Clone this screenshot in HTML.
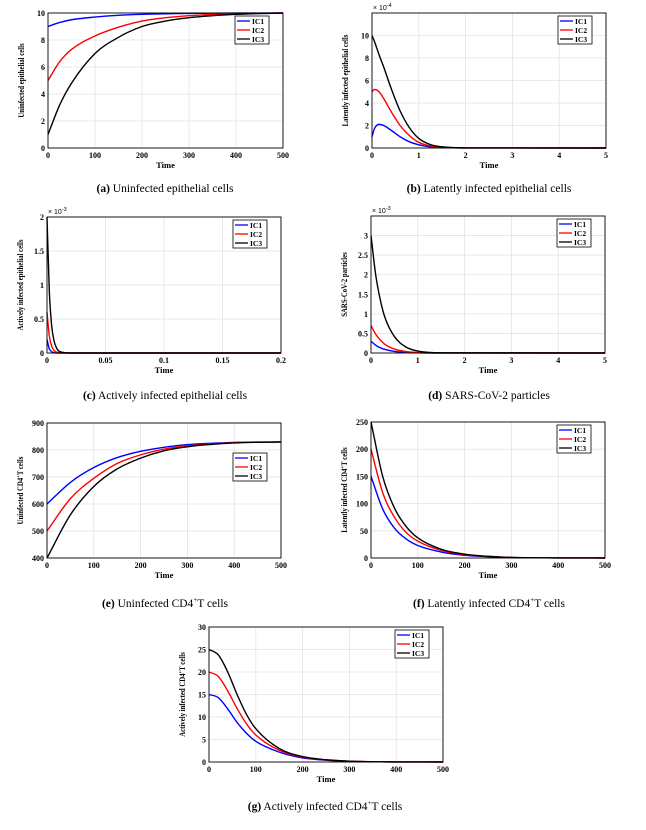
<!DOCTYPE html>
<html><head><meta charset="utf-8">
<style>
html,body{margin:0;padding:0;background:#fff;}
body{width:646px;height:830px;position:relative;overflow:hidden;font-family:"Liberation Serif",serif;}
.cap{position:absolute;font-size:11.5px;color:#000;white-space:nowrap;transform:translateX(-50%);}
svg{position:absolute;left:0;top:0;}
</style></head>
<body>
<svg id="fig" width="646" height="830"></svg>
<div class="cap" style="left:165px;top:183px"><b>(a)</b> Uninfected epithelial cells</div>
<div class="cap" style="left:489px;top:183px"><b>(b)</b> Latently infected epithelial cells</div>
<div class="cap" style="left:165px;top:390px"><b>(c)</b> Actively infected epithelial cells</div>
<div class="cap" style="left:489px;top:390px"><b>(d)</b> SARS-CoV-2 particles</div>
<div class="cap" style="left:165px;top:596px"><b>(e)</b> Uninfected CD4<sup style="font-size:7px">+</sup>T cells</div>
<div class="cap" style="left:489px;top:596px"><b>(f)</b> Latently infected CD4<sup style="font-size:7px">+</sup>T cells</div>
<div class="cap" style="left:325px;top:799px"><b>(g)</b> Actively infected CD4<sup style="font-size:7px">+</sup>T cells</div>
<script>
// ---- data ----
const aT=[0,25,50,100,150,200,250,300,400,500];
const aIC1=[9,9.3,9.5,9.7,9.83,9.9,9.94,9.97,9.99,10];
const aIC2=[5,6.4,7.3,8.3,8.95,9.4,9.65,9.8,9.95,10];
const aIC3=[1,3.2,4.8,7.0,8.2,9.0,9.4,9.65,9.9,10];
const bT=[0,0.05,0.15,0.25,0.4,0.6,0.8,1,1.25,1.5,2,5];
const bIC1=[1,1.7,2.1,2.0,1.6,1.0,0.55,0.28,0.1,0.04,0.01,0];
const bIC2=[5,5.2,5.0,4.4,3.3,2.0,1.1,0.5,0.18,0.06,0.01,0];
const bIC3=[10,9.5,8.3,7.2,5.4,3.3,1.8,0.85,0.3,0.1,0.01,0];
const cT=[0,0.002,0.004,0.006,0.008,0.01,0.015,0.02,0.2];
const cIC1=[0.2,0.06,0.02,0.005,0,0,0,0,0];
const cIC2=[0.6,0.25,0.1,0.04,0.015,0.005,0,0,0];
const cIC3=[2.0,0.9,0.4,0.18,0.08,0.03,0.005,0,0];
const dT=[0,0.1,0.2,0.3,0.5,0.75,1,1.5,5];
const dIC1=[0.3,0.2,0.13,0.09,0.04,0.015,0.005,0,0];
const dIC2=[0.7,0.48,0.33,0.22,0.1,0.035,0.012,0,0];
const dIC3=[3.0,2.0,1.35,0.9,0.42,0.15,0.05,0.005,0];
const eT=[0,50,100,150,200,250,300,400,500];
const eIC1=[600,680,735,772,795,810,820,828,830];
const eIC2=[500,620,695,750,782,803,815,827,830];
const eIC3=[400,560,665,730,770,797,812,826,830];
const fT=[0,25,50,75,100,150,200,250,300,400,500];
const fIC1=[150,90,55,35,23,11,5,2.5,1,0.2,0];
const fIC2=[200,120,75,47,31,14,6,3,1,0.2,0];
const fIC3=[250,150,92,58,37,16,7,3,1,0.2,0];
const gT=[0,20,40,60,80,100,150,200,250,300,400,500];
const gIC1=[15,14.3,11.8,8.8,6.4,4.6,2.2,0.9,0.4,0.15,0.02,0];
const gIC2=[20,19,15.8,11.9,8.5,6.0,2.6,1.1,0.45,0.17,0.02,0];
const gIC3=[25,23.8,20,15,10.6,7.4,3.0,1.2,0.5,0.18,0.02,0];
const aXT=[0,100,200,300,400,500], aYT=[0,2,4,6,8,10];
const bXT=[0,1,2,3,4,5], bYT=[0,2,4,6,8,10];
const cXT=[0,0.05,0.1,0.15,0.2], cYT=[0,0.5,1,1.5,2];
const dXT=[0,1,2,3,4,5], dYT=[0,0.5,1,1.5,2,2.5,3];
const eXT=[0,100,200,300,400,500], eYT=[400,500,600,700,800,900];
const fXT=[0,100,200,300,400,500], fYT=[0,50,100,150,200,250];
const gXT=[0,100,200,300,400,500], gYT=[0,5,10,15,20,25,30];
const seriesNames=['IC1','IC2','IC3'];
const colors=['#0000ff','#ff0000','#000000'];

const NS='http://www.w3.org/2000/svg';
const svg=document.getElementById('fig');
function mk(tag,attrs,parent){const e=document.createElementNS(NS,tag);for(const k in attrs)e.setAttribute(k,attrs[k]);(parent||svg).appendChild(e);return e;}
function monoPath(px,py){
  const n=px.length;const d=[],m=[];
  for(let i=0;i<n-1;i++)d.push((py[i+1]-py[i])/(px[i+1]-px[i]));
  m[0]=d[0];m[n-1]=d[n-2];
  for(let i=1;i<n-1;i++){m[i]=(d[i-1]*d[i]<=0)?0:(d[i-1]+d[i])/2;}
  for(let i=0;i<n-1;i++){if(d[i]===0){m[i]=0;m[i+1]=0;continue;}const a=m[i]/d[i],b=m[i+1]/d[i],s=a*a+b*b;if(s>9){const t=3/Math.sqrt(s);m[i]=t*a*d[i];m[i+1]=t*b*d[i];}}
  let p='M'+px[0].toFixed(2)+','+py[0].toFixed(2);
  for(let i=0;i<n-1;i++){const h=px[i+1]-px[i];p+=' C'+(px[i]+h/3).toFixed(2)+','+(py[i]+m[i]*h/3).toFixed(2)+' '+(px[i+1]-h/3).toFixed(2)+','+(py[i+1]-m[i+1]*h/3).toFixed(2)+' '+px[i+1].toFixed(2)+','+py[i+1].toFixed(2);}
  return p;
}
function panel(id,box,xr,yr,xt,yt,t,ys,ylab,expo,legBelow){
  const [L,T,R,B]=box;
  const g=mk('g',{});
  
  
  const X=v=>L+(v-xr[0])/(xr[1]-xr[0])*(R-L);
  const Y=v=>B-(v-yr[0])/(yr[1]-yr[0])*(B-T);
  xt.forEach(v=>{const l=mk('line',{x1:X(v),x2:X(v),y1:T,y2:B,stroke:'#e3e3e3','stroke-width':0.8},g);
    const tx=mk('text',{x:X(v),y:B+10,'font-size':8,'font-weight':'bold','text-anchor':'middle','font-family':'Liberation Serif'},g);tx.textContent=v;});
  yt.forEach(v=>{const l=mk('line',{x1:L,x2:R,y1:Y(v),y2:Y(v),stroke:'#e3e3e3','stroke-width':0.8},g);
    const tx=mk('text',{x:L-3,y:Y(v)+3,'font-size':8,'font-weight':'bold','text-anchor':'end','font-family':'Liberation Serif'},g);tx.textContent=v;});
  ys.forEach((s,k)=>{const p=mk('path',{d:monoPath(t.map(X),s.map(Y)),fill:'none',stroke:colors[k],'stroke-width':1.4},g);});
  const fr=mk('rect',{x:L,y:T,width:R-L,height:B-T,fill:'none',stroke:'#000','stroke-width':0.9},g);
  
  const xl=mk('text',{x:(L+R)/2,y:B+20,'font-size':8.5,'font-weight':'bold','text-anchor':'middle','font-family':'Liberation Serif'},g);xl.textContent='Time';
  
  const yl=mk('text',{x:0,y:0,'font-size':8,'font-weight':'bold','text-anchor':'middle','font-family':'Liberation Serif',transform:'translate('+(L-24)+','+((T+B)/2)+') rotate(-90) scale(0.85,1)'},g);
  yl.innerHTML=ylab;
  
  if(expo){const ex=mk('text',{x:L+1,y:T-3,'font-size':7,'font-family':'Liberation Sans'},g);ex.innerHTML='× 10<tspan dy="-3" font-size="5.5">'+expo+'</tspan>';}
  const lw=34,lh=28,lx=R-lw-14,ly=T+3+(legBelow||0);
  const lg=mk('g',{},g);
  mk('rect',{x:lx,y:ly,width:lw,height:lh,fill:'#fff',stroke:'#000','stroke-width':0.8},lg);
  seriesNames.forEach((n,k)=>{const yy=ly+5+k*9;
    const e=mk('line',{x1:lx+2,x2:lx+15,y1:yy,y2:yy,stroke:colors[k],'stroke-width':1.3},lg);
    const tx=mk('text',{x:lx+17,y:yy+3,'font-size':7.5,'font-weight':'bold','font-family':'Liberation Serif'},lg);tx.textContent=n;});
}
panel('a',[48,13,283,148],[0,500],[0,10],aXT,aYT,aT,[aIC1,aIC2,aIC3],'Uninfected epithelial cells',null);
panel('b',[372,13,606,148],[0,5],[0,12],bXT,bYT,bT,[bIC1,bIC2,bIC3],'Latently infected epithelial cells','-4');
panel('c',[47,217,281,353],[0,0.2],[0,2],cXT,cYT,cT,[cIC1,cIC2,cIC3],'Actively infected epithelial cells','-3');
panel('d',[371,216,605,353],[0,5],[0,3.5],dXT,dYT,dT,[dIC1,dIC2,dIC3],'SARS-CoV-2 particles','-3');
panel('e',[47,423,281,558],[0,500],[400,900],eXT,eYT,eT,[eIC1,eIC2,eIC3],'Uninfected CD4<tspan dy="-3" font-size="5.5">+</tspan><tspan dy="3">T cells</tspan>',null,27);
panel('f',[371,422,605,558],[0,500],[0,250],fXT,fYT,fT,[fIC1,fIC2,fIC3],'Latently infected CD4<tspan dy="-3" font-size="5.5">+</tspan><tspan dy="3">T cells</tspan>',null);
panel('g',[209,627,443,762],[0,500],[0,30],gXT,gYT,gT,[gIC1,gIC2,gIC3],'Actively infected CD4<tspan dy="-3" font-size="5.5">+</tspan><tspan dy="3">T cells</tspan>',null);
</script>
</body></html>
